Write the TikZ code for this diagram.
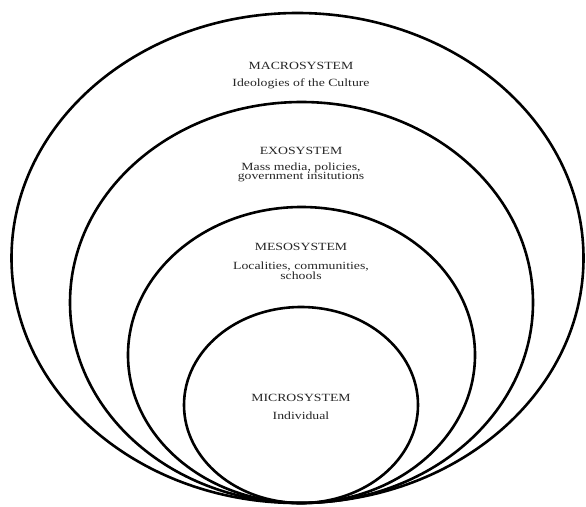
\documentclass[tikz,border=0pt]{standalone}
\usepackage{fontspec}
\setmainfont{Liberation Serif}
\begin{document}
\begin{tikzpicture}[x=1pt,y=-1pt,
  ring/.style={line width=2.6pt, draw=black},
  lbl/.style={font=\fontsize{11}{11}\selectfont, text=black!85, xscale=1.25, transform shape, inner sep=0pt, anchor=base}]
\useasboundingbox (0,0) rectangle (586,506);
% ellipses
\draw[ring] (297.5,258) ellipse [x radius=286, y radius=245];
\draw[ring] (301.5,302.5) ellipse [x radius=231.5, y radius=200.5];
\draw[ring] (301.5,355) ellipse [x radius=173.5, y radius=148];
\draw[ring] (301,405) ellipse [x radius=117, y radius=98];
% texts
\node[lbl] (macro) at (301,69) {MACROSYSTEM};
\node[lbl] (macrod) at (301,86.7) {Ideologies of the Culture};
\node[lbl] (exo) at (301,154) {EXOSYSTEM};
\node[lbl] (exod1) at (301,170) {Mass media, policies,};
\node[lbl] (exod2) at (301,179.5) {government insitutions};
\node[lbl] (meso) at (301,250.7) {MESOSYSTEM};
\node[lbl] (mesod1) at (301,269) {Localities, communities,};
\node[lbl] (mesod2) at (301,279) {schools};
\node[lbl] (micro) at (301,401.7) {MICROSYSTEM};
\node[lbl] (microd) at (301,419) {Individual};
\end{tikzpicture}
\end{document}
